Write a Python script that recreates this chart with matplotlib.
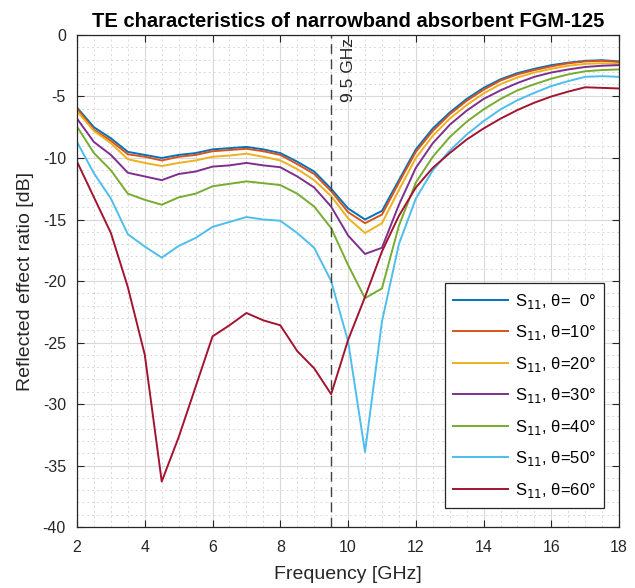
import numpy as np
import matplotlib
matplotlib.use("Agg")
import matplotlib.pyplot as plt
from matplotlib.ticker import MultipleLocator

plt.rcParams['font.family'] = ['Liberation Sans', 'DejaVu Sans']
plt.rcParams['axes.unicode_minus'] = False

freq = np.arange(2.0, 18.01, 0.5)

s_0 = [-5.9, -7.5, -8.4, -9.5, -9.75, -10.0, -9.75, -9.6, -9.3, -9.2, -9.1,
       -9.3, -9.6, -10.3, -11.1, -12.5, -14.1, -15.0, -14.3, -11.8, -9.3,
       -7.6, -6.3, -5.2, -4.3, -3.6, -3.1, -2.75, -2.45, -2.25, -2.1, -2.05, -2.15]
s_10 = [-6.0, -7.7, -8.6, -9.7, -9.9, -10.2, -9.9, -9.75, -9.45, -9.35, -9.25,
        -9.45, -9.75, -10.5, -11.3, -12.7, -14.4, -15.3, -14.6, -12.0, -9.5,
        -7.8, -6.45, -5.35, -4.45, -3.7, -3.2, -2.85, -2.55, -2.3, -2.15, -2.1, -2.2]
s_20 = [-6.2, -7.8, -8.8, -10.1, -10.4, -10.65, -10.4, -10.2, -9.9, -9.8, -9.65,
        -9.9, -10.2, -10.9, -11.8, -13.1, -14.9, -16.1, -15.3, -12.6, -10.0,
        -8.2, -6.8, -5.7, -4.75, -4.0, -3.45, -3.05, -2.75, -2.5, -2.35, -2.3, -2.35]
s_30 = [-6.8, -8.7, -9.75, -11.2, -11.5, -11.8, -11.3, -11.1, -10.7, -10.6, -10.4,
        -10.6, -10.75, -11.5, -12.4, -13.95, -16.3, -17.8, -17.3, -13.8, -10.8,
        -8.8, -7.3, -6.15, -5.2, -4.5, -3.9, -3.4, -3.05, -2.8, -2.6, -2.5, -2.45]
s_40 = [-7.45, -9.6, -11.0, -12.9, -13.4, -13.8, -13.2, -12.9, -12.3, -12.1, -11.9,
        -12.05, -12.2, -12.9, -13.95, -15.7, -18.7, -21.4, -20.6, -15.5, -12.0,
        -9.9, -8.3, -7.05, -6.05, -5.2, -4.5, -4.0, -3.55, -3.2, -2.95, -2.85, -2.8]
s_50 = [-8.7, -11.25, -13.3, -16.2, -17.2, -18.1, -17.15, -16.5, -15.6, -15.2, -14.8,
        -15.0, -15.1, -16.1, -17.3, -20.0, -24.9, -33.9, -23.3, -17.0, -13.3,
        -11.0, -9.4, -8.1, -7.0, -6.05, -5.3, -4.7, -4.15, -3.75, -3.4, -3.35, -3.4]
s_60 = [-10.3, -13.2, -16.1, -20.5, -26.0, -36.3, -32.7, -28.6, -24.5, -23.6, -22.6,
        -23.2, -23.6, -25.7, -27.1, -29.2, -24.8, -21.3, -17.6, -14.7, -12.4,
        -10.8, -9.6, -8.5, -7.6, -6.8, -6.1, -5.5, -5.0, -4.6, -4.25, -4.3, -4.35]

series = [s_0, s_10, s_20, s_30, s_40, s_50, s_60]
labels = ['S$_{11}$, θ=  0°', 'S$_{11}$, θ=10°', 'S$_{11}$, θ=20°', 'S$_{11}$, θ=30°',
          'S$_{11}$, θ=40°', 'S$_{11}$, θ=50°', 'S$_{11}$, θ=60°']
colors = ['#0072BD', '#D95319', '#EDB120', '#7E2F8E', '#77AC30', '#4DBEEE', '#A2142F']

marker_f = 9.5

fig = plt.figure(figsize=(6.35, 5.88), dpi=100)
ax = fig.add_axes([0.1213, 0.1037, 0.8537, 0.8368])

for vals, lab, col in zip(series, labels, colors):
    ax.plot(freq, vals, color=col, lw=1.4, label=lab)

ax.axvline(marker_f, color='#404040', lw=1.0, ls=(0, (7, 4)))
ax.text(marker_f + 0.3, -0.25, '9.5 GHz', rotation=90, ha='left', va='top',
        fontsize=12.5, color='#262626')

ax.set_xlim(2, 18)
ax.set_ylim(-40, 0)
ax.xaxis.set_major_locator(MultipleLocator(2))
ax.xaxis.set_minor_locator(MultipleLocator(0.5))
ax.yaxis.set_major_locator(MultipleLocator(5))
ax.yaxis.set_minor_locator(MultipleLocator(1))
ax.grid(which='major', color='#d9d9d9', lw=0.8, ls='-')
ax.grid(which='minor', color='#d9d9d9', lw=0.7, ls=(0, (2, 3)))
ax.set_axisbelow(True)
ax.tick_params(which='both', direction='in', top=True, right=True,
               colors='#262626', labelsize=11.5)
ax.tick_params(axis='x', which='major', length=5, pad=9)
ax.tick_params(axis='y', which='major', length=5, pad=8)
ax.tick_params(which='minor', length=0)
for sp in ax.spines.values():
    sp.set_color('#262626')
    sp.set_linewidth(0.9)

ax.set_title('TE characteristics of narrowband absorbent FGM-125',
             fontsize=14.5, fontweight='bold', pad=6)
ax.set_xlabel('Frequency [GHz]', fontsize=14, color='#262626', labelpad=8)
ax.set_ylabel('Reflected effect ratio [dB]', fontsize=14, color='#262626', labelpad=6)

leg = ax.legend(loc='lower right', bbox_to_anchor=(0.972, 0.039), borderaxespad=0,
                fontsize=12, fancybox=False, framealpha=1, edgecolor='#262626',
                handlelength=3.3, handletextpad=0.4, labelspacing=0.75, borderpad=0.5)
leg.get_frame().set_linewidth(0.9)

fig.savefig('out.png', dpi=100)
